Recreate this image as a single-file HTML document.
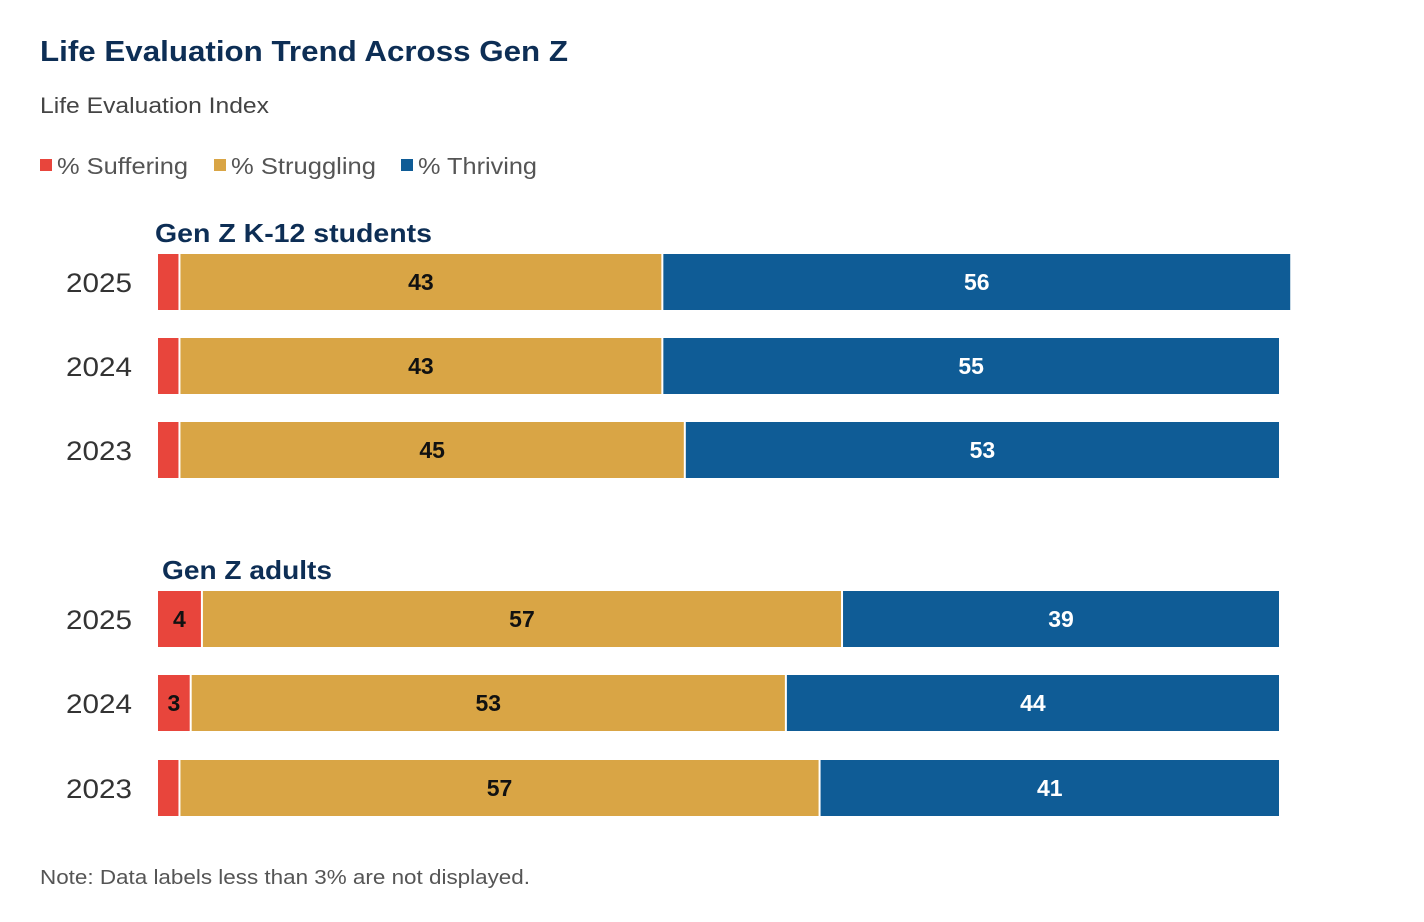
<!DOCTYPE html>
<html><head><meta charset="utf-8"><style>
body{margin:0;background:#fff;width:1424px;height:922px;overflow:hidden;font-family:"Liberation Sans",sans-serif}
svg{position:absolute;left:0;top:0}
</style></head><body>
<svg id="c" width="1424" height="922">
<text x="40" y="61" font-size="29" font-weight="bold" fill="#0D2E55" textLength="528" lengthAdjust="spacingAndGlyphs">Life Evaluation Trend Across Gen Z</text>
<text x="40" y="113" font-size="22" fill="#444" textLength="229" lengthAdjust="spacingAndGlyphs">Life Evaluation Index</text>
<g>
<rect x="40" y="159" width="12" height="12" fill="#E8453C"/>
<text x="57" y="174" font-size="23" fill="#555" textLength="131" lengthAdjust="spacingAndGlyphs">% Suffering</text>
<rect x="214" y="159" width="12" height="12" fill="#D9A545"/>
<text x="231" y="174" font-size="23" fill="#555" textLength="145" lengthAdjust="spacingAndGlyphs">% Struggling</text>
<rect x="401" y="159" width="12" height="12" fill="#0F5C96"/>
<text x="418" y="174" font-size="23" fill="#555" textLength="119" lengthAdjust="spacingAndGlyphs">% Thriving</text>
</g>
<text x="155" y="242" font-size="26" font-weight="bold" fill="#0D2E55" textLength="277" lengthAdjust="spacingAndGlyphs">Gen Z K-12 students</text>
<text x="162" y="579" font-size="26" font-weight="bold" fill="#0D2E55" textLength="170" lengthAdjust="spacingAndGlyphs">Gen Z adults</text>
<text x="40" y="884" font-size="20" fill="#555" textLength="490" lengthAdjust="spacingAndGlyphs">Note: Data labels less than 3% are not displayed.</text>
<g id="bars"></g>
</svg>
<script>
const years = ["2025","2024","2023","2025","2024","2023"];
const suffering = [2,2,2,4,3,2];
const struggling = [43,43,45,57,53,57];
const thriving = [56,55,53,39,44,41];
const rowCenters = [282,366,450,619,703,788];
const colors = ["#E8453C","#D9A545","#0F5C96"];
const textColors = ["#111","#111","#fff"];
const segNames = ["suffering","struggling","thriving"];
const x0 = 157, pxPer = 11.23, barH = 56;
const xs = v => x0 + v * pxPer;
const ns = "http://www.w3.org/2000/svg";
const g = document.getElementById("bars");
years.forEach((yr, i) => {
  const cy = rowCenters[i];
  const lab = document.createElementNS(ns, "text");
  
  
  lab.setAttribute("x", 66); lab.setAttribute("y", cy + 10);
  lab.setAttribute("font-size", "27"); lab.setAttribute("fill", "#333");
  lab.setAttribute("textLength", "66"); lab.setAttribute("lengthAdjust", "spacingAndGlyphs");
  lab.textContent = yr; g.appendChild(lab);
  const vals = [suffering[i], struggling[i], thriving[i]];
  let cum = 0;
  vals.forEach((v, k) => {
    const r = document.createElementNS(ns, "rect");
    
    
    r.setAttribute("x", xs(cum) + 1); r.setAttribute("y", cy - barH / 2);
    r.setAttribute("width", Math.max(0, v * pxPer - 2)); r.setAttribute("height", barH);
    r.setAttribute("fill", colors[k]); g.appendChild(r);
    if (v >= 3) {
      const t = document.createElementNS(ns, "text");
      
      
      t.setAttribute("x", xs(cum + v / 2)); t.setAttribute("y", cy + 8);
      t.setAttribute("text-anchor", "middle"); t.setAttribute("font-size", "23");
      t.setAttribute("font-weight", "bold"); t.setAttribute("fill", textColors[k]);
      t.textContent = v; g.appendChild(t);
    }
    cum += v;
  });
});
</script>
</body></html>
